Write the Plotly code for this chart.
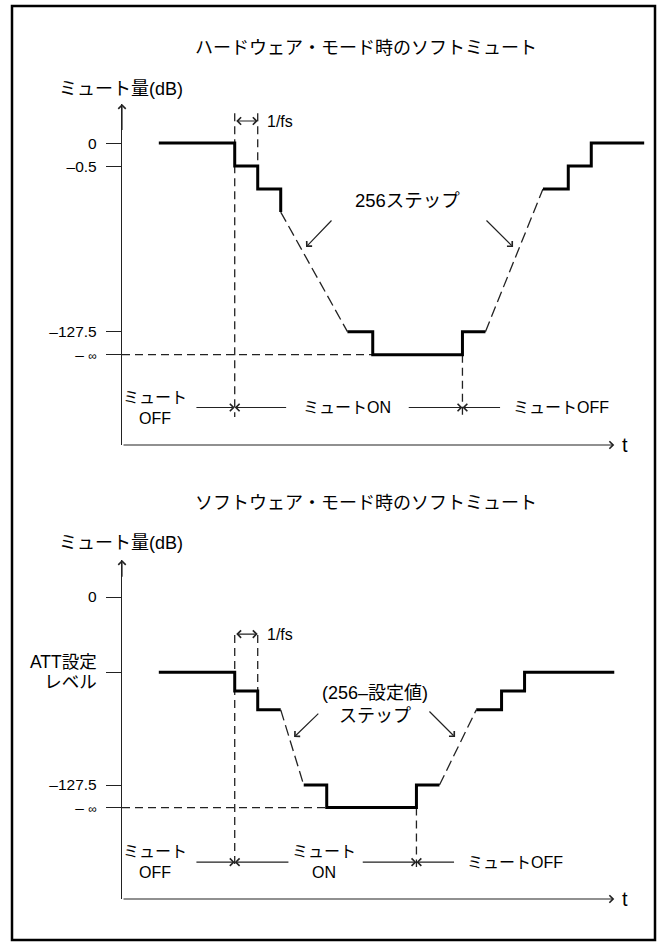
import plotly.graph_objects as go

W, H = 661, 944
FONT = "Liberation Sans, Arial, Noto Sans CJK JP"

# ---- ハードウェア・モード (上段) ----
# 時間は 1/fs 単位、レベルは1ステップ単位（模式図）
hw_solid_t = [1.6, 4.9, 4.9, 5.9, 5.9, 6.9, 6.9, None,
              9.8, 10.9, 10.9, 14.8, 14.8, 15.8, None,
              18.3, 19.4, 19.4, 20.4, 20.4, 22.7]
hw_solid_y = [0, 0, -1, -1, -2, -2, -3, None,
              -8.2, -8.2, -9.2, -9.2, -8.2, -8.2, None,
              -2, -2, -1, -1, 0, 0]
hw_ramp_t = [6.9, 9.8, None, 15.8, 18.3]
hw_ramp_y = [-3, -8.2, None, -8.2, -2]
hw_tickvals = [0, -1, -8.2, -9.2]
hw_ticktext = ["0", "–0.5", "–127.5", "– <span style='font-size:12px'>∞</span>"]
hw_mute_on, hw_next, hw_mute_off = 4.9, 5.9, 14.8

# ---- ソフトウェア・モード (下段) ----
sw_solid_t = [1.6, 4.9, 4.9, 5.9, 5.9, 6.9, None,
              7.9, 8.9, 8.9, 12.8, 12.8, 13.8, None,
              15.4, 16.5, 16.5, 17.5, 17.5, 21.4]
sw_solid_y = [-4, -4, -5, -5, -6, -6, None,
              -10, -10, -11.2, -11.2, -10, -10, None,
              -6, -6, -5, -5, -4, -4]
sw_ramp_t = [6.9, 7.9, None, 13.8, 15.4]
sw_ramp_y = [-6, -10, None, -10, -6]
sw_tickvals = [0, -4, -10, -11.2]
sw_ticktext = ["0", "<span style='font-size:17.5px'>ATT設定<br>レベル</span>",
               "–127.5", "– <span style='font-size:12px'>∞</span>"]
sw_mute_on, sw_next, sw_mute_off = 4.9, 5.9, 12.8


def px_x(p):
    return p / W


def px_y(p):
    return 1 - p / H


fig = go.Figure()
annots = []


def panel(xr, yr, solid_t, solid_y, ramp_t, ramp_y, tv, on, nxt, off,
          guide_top, guide_bot, inf_end):
    inf_y = tv[-1]
    guide = dict(color="#222", width=1.3, dash="8px,5px")
    # 破線ガイド
    fig.add_trace(go.Scatter(x=[on, on], y=[guide_top, guide_bot], mode="lines",
                             line=guide, xaxis=xr, yaxis=yr, hoverinfo="skip"))
    fig.add_trace(go.Scatter(x=[nxt, nxt], y=[guide_top, solid_y[2]], mode="lines",
                             line=guide, xaxis=xr, yaxis=yr, hoverinfo="skip"))
    fig.add_trace(go.Scatter(x=[off, off], y=[inf_y, guide_bot], mode="lines",
                             line=guide, xaxis=xr, yaxis=yr, hoverinfo="skip"))
    fig.add_trace(go.Scatter(x=[0, inf_end], y=[inf_y, inf_y], mode="lines",
                             line=guide, xaxis=xr, yaxis=yr, hoverinfo="skip"))
    fig.add_trace(go.Scatter(x=ramp_t, y=ramp_y, mode="lines",
                             line=dict(color="#222", width=1.3, dash="11px,5px"),
                             xaxis=xr, yaxis=yr, hoverinfo="skip"))
    fig.add_trace(go.Scatter(x=solid_t, y=solid_y, mode="lines",
                             line=dict(color="black", width=3),
                             xaxis=xr, yaxis=yr, hoverinfo="skip"))


def arrow(xr, yr, x, y, ax, ay, both=False):
    d = dict(x=x, y=y, ax=ax, ay=ay, xref=xr, yref=yr, axref=xr, ayref=yr,
             text="", showarrow=True, arrowhead=4, arrowsize=1.2,
             arrowwidth=1.2, arrowcolor="#222", standoff=0, startstandoff=0)
    if both:
        d.update(arrowside="end+start", startarrowhead=4, startarrowsize=1.2)
    annots.append(d)


def text(xr, yr, x, y, s, size=16, xanchor="center"):
    annots.append(dict(x=x, y=y, xref=xr, yref=yr, text=s, showarrow=False,
                       xanchor=xanchor, yanchor="middle",
                       font=dict(size=size, family=FONT, color="black")))


# ----- 上段 -----
panel("x", "y", hw_solid_t, hw_solid_y, hw_ramp_t, hw_ramp_y, hw_tickvals,
      hw_mute_on, hw_next, hw_mute_off, 1.30, -11.91, hw_solid_t[9])
arrow("x", "y", 0, 1.70, 0, 0.5)
arrow("x", "y", 21.4, -13.13, 0, -13.13)
text("x", "y", 21.65, -13.13, "t", size=20, xanchor="left")
arrow("x", "y", hw_next, 0.96, hw_mute_on, 0.96, both=True)
text("x", "y", 6.2, 0.96, "1/fs", size=16, xanchor="left")
text("x", "y", 12.4, -2.48, "256ステップ", size=18.5)
arrow("x", "y", 8.0, -4.52, 9.17, -3.30)
arrow("x", "y", 17.0, -4.52, 15.78, -3.30)
ry = -11.5
arrow("x", "y", hw_mute_on, ry, 3.17, ry)
arrow("x", "y", hw_mute_on, ry, 7.2, ry)
arrow("x", "y", hw_mute_off, ry, 12.4, ry)
arrow("x", "y", hw_mute_off, ry, 16.5, ry)
text("x", "y", 1.45, ry, "ミュート<br>OFF")
text("x", "y", 9.8, ry, "ミュートON")
text("x", "y", 19.1, ry, "ミュートOFF")

# ----- 下段 -----
panel("x2", "y2", sw_solid_t, sw_solid_y, sw_ramp_t, sw_ramp_y, sw_tickvals,
      sw_mute_on, sw_next, sw_mute_off, -2.02, -14.36, sw_solid_t[8])
arrow("x2", "y2", 0, 1.97, 0, 1.0)
arrow("x2", "y2", 21.4, -16.06, 0, -16.06)
text("x2", "y2", 21.65, -16.06, "t", size=20, xanchor="left")
arrow("x2", "y2", sw_next, -1.97, sw_mute_on, -1.97, both=True)
text("x2", "y2", 6.2, -1.97, "1/fs", size=16, xanchor="left")
text("x2", "y2", 11.0, -5.74, "(256–設定値)<br>ステップ", size=18)
arrow("x2", "y2", 7.48, -7.45, 8.6, -6.12)
arrow("x2", "y2", 14.48, -7.45, 13.3, -6.01)
ry2 = -14.1
arrow("x2", "y2", sw_mute_on, ry2, 3.17, ry2)
arrow("x2", "y2", sw_mute_on, ry2, 7.3, ry2)
arrow("x2", "y2", sw_mute_off, ry2, 10.4, ry2)
arrow("x2", "y2", sw_mute_off, ry2, 14.5, ry2)
text("x2", "y2", 1.45, ry2, "ミュート<br>OFF")
text("x2", "y2", 8.8, ry2, "ミュート<br>ON")
text("x2", "y2", 17.1, ry2, "ミュートOFF")

# タイトル・軸ラベル
for s, ypx in [("ハードウェア・モード時のソフトミュート", 48),
               ("ソフトウェア・モード時のソフトミュート", 503)]:
    annots.append(dict(x=px_x(366), y=px_y(ypx), xref="paper", yref="paper",
                       text=s, showarrow=False, xanchor="center", yanchor="middle",
                       font=dict(size=18, family=FONT, color="black")))
for ypx in [89, 543]:
    annots.append(dict(x=px_x(121), y=px_y(ypx), xref="paper", yref="paper",
                       text="ミュート量(dB)", showarrow=False, xanchor="center",
                       yanchor="middle", font=dict(size=18, family=FONT, color="black")))

xdom = [px_x(122), px_x(652)]
xax = dict(domain=xdom, range=[0, 23.04], visible=False, fixedrange=True)


def yax(dom, rng, tv, tt, anchor):
    return dict(domain=dom, range=rng, tickvals=tv, ticktext=tt, ticks="outside",
                ticklen=15, tickwidth=1.3, tickcolor="#222", showline=True,
                linewidth=1.4, linecolor="#222", showgrid=False, zeroline=False,
                ticklabelstandoff=6, automargin=False, anchor=anchor, fixedrange=True,
                tickfont=dict(size=15.5, family=FONT, color="black"))


fig.update_layout(
    width=W, height=H,
    margin=dict(l=0, r=0, t=0, b=0),
    paper_bgcolor="white", plot_bgcolor="white",
    showlegend=False,
    font=dict(family=FONT, color="black"),
    xaxis=dict(xax, anchor="y"),
    yaxis=yax([px_y(445), px_y(104)], [-13.13, 1.70], hw_tickvals, hw_ticktext, "x"),
    xaxis2=dict(xax, anchor="y2"),
    yaxis2=yax([px_y(899), px_y(560)], [-16.06, 1.97], sw_tickvals, sw_ticktext, "x2"),
    annotations=annots,
    shapes=[dict(type="rect", xref="paper", yref="paper",
                 x0=px_x(12), x1=px_x(655), y0=px_y(940), y1=px_y(6),
                 line=dict(color="black", width=2.5))],
)

fig.write_html("out.html", config={"displayModeBar": False},
               post_script="document.body.style.margin='0';")
